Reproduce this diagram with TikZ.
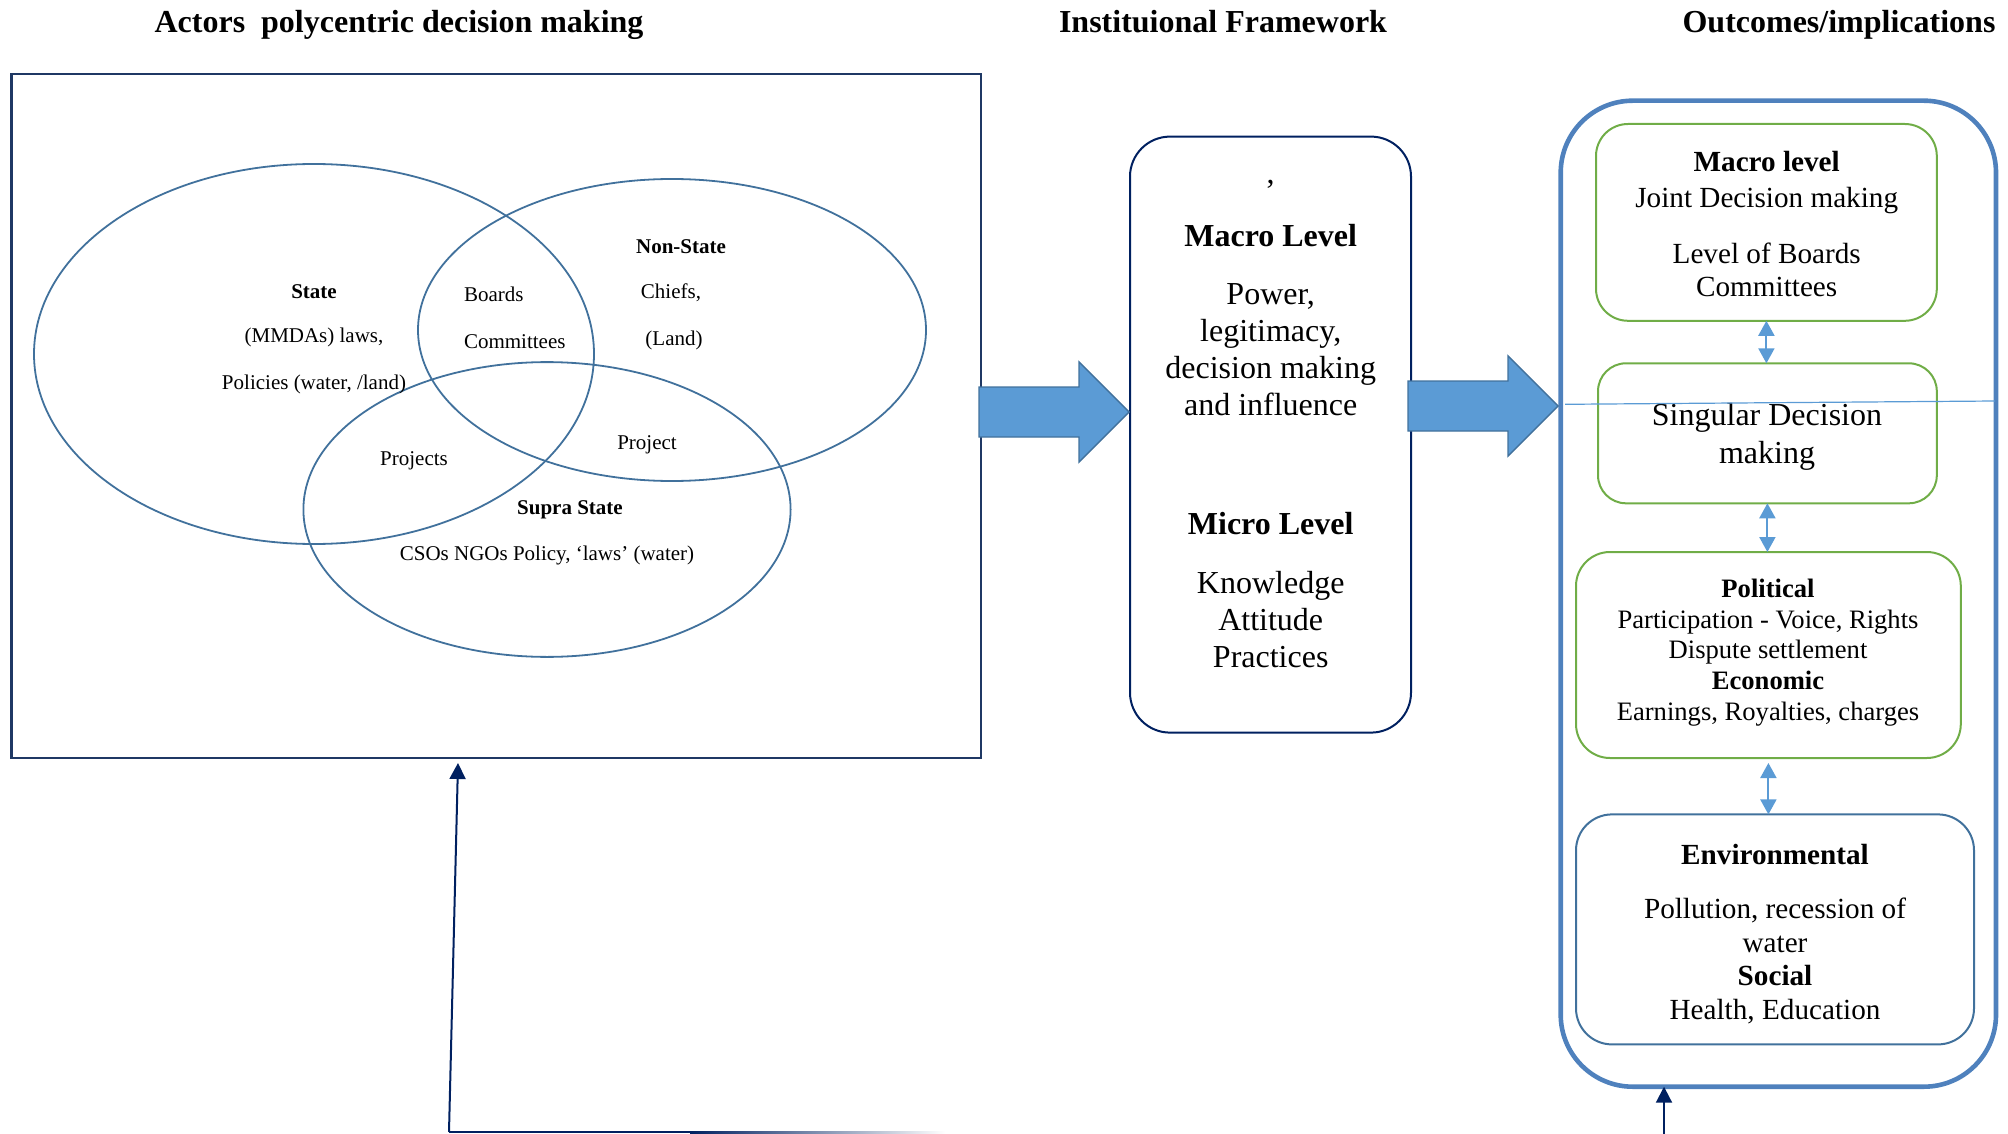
\documentclass[tikz,border=0pt]{standalone}
\usepackage{fontspec}
\setmainfont{Liberation Serif}
\usetikzlibrary{positioning,shapes.geometric,arrows.meta,calc}

\definecolor{vennblue}{HTML}{41719C}
\definecolor{boxblue}{HTML}{4F81BD}
\definecolor{arrowblue}{HTML}{5B9BD5}
\definecolor{leafgreen}{HTML}{70AD47}
\definecolor{deepnavy}{HTML}{002060}
\definecolor{framenavy}{HTML}{1F3864}

\begin{document}
\begin{tikzpicture}[x=0.5pt,y=-0.5pt,
  every node/.style={inner sep=0pt,outer sep=0pt},
  head/.style={anchor=base,font=\fontsize{16}{19}\selectfont\bfseries},
  venn/.style={ellipse,draw=vennblue,line width=0.9pt},
  vtext/.style={anchor=base,font=\fontsize{10.5}{12.5}\selectfont},
  vbold/.style={vtext,font=\fontsize{10.5}{12.5}\selectfont\bfseries},
  greenbox/.style={draw=leafgreen,line width=1pt},
  btext/.style={anchor=base,align=center},
  blockarrow/.style={fill=arrowblue,draw=vennblue,line width=0.7pt,line join=miter},
  twoway/.style={draw=arrowblue,line width=1pt,{Triangle[width=8pt,length=7.5pt]}-{Triangle[width=8pt,length=7.5pt]}},
  navyarrow/.style={draw=deepnavy,line width=1pt,-{Triangle[width=8pt,length=8pt]}}
]
\useasboundingbox (0,0) rectangle (2008,1134);

% column headings
\node[head] (acthead) at (399,33) {Actors~ polycentric decision making};
\node[head] (insthead) at (1223,33) {Instituional Framework};
\node[head] (outhead) at (1839,33) {Outcomes/implications};

% actors and the venn diagram
\node[draw=framenavy,line width=1.2pt,minimum width=484.75pt,minimum height=342pt] (actors) at (496.25,416) {};
\node[venn,minimum width=280pt,minimum height=190pt] (state) at (314,354) {};
\node[venn,minimum width=254pt,minimum height=151pt] (nonstate) at (672,330) {};
\node[venn,minimum width=243.6pt,minimum height=147.4pt] (supra) at (547,509.5) {};

\node[vbold] (statelbl) at (314,299) {State};
\node[vtext] (statelaw) at (314,343) {(MMDAs) laws,};
\node[vtext] (statepol) at (314,389) {Policies (water, /land)};
\node[vtext,anchor=base west] (boards) at (464,302) {Boards};
\node[vtext,anchor=base west] (committees) at (464,349) {Committees};
\node[vbold] (nonstatelbl) at (681,254) {Non-State};
\node[vtext] (chiefs) at (671,299) {Chiefs,};
\node[vtext] (land) at (674,345) {(Land)};
\node[vtext] (project) at (647,449) {Project};
\node[vtext] (projects) at (414,465) {Projects};
\node[vbold] (supralbl) at (570,514) {Supra State};
\node[vtext] (supradesc) at (547,560) {CSOs NGOs Policy, `laws' (water)};

% institutional framework
\node[draw=deepnavy,line width=1pt,rounded corners=20pt,minimum width=140.5pt,minimum height=298pt] (inst) at (1270.5,434.6) {};
\node[anchor=base,font=\fontsize{16}{18.5}\selectfont] (stray) at (1270.7,184) {,};
\node[btext,font=\fontsize{16}{18.4}\selectfont] (insttxt) at (1270.7,667.5)
  {\textbf{Macro Level}\\[11pt] Power,\\ legitimacy,\\ decision making\\ and influence\\[41pt]
   \textbf{Micro Level}\\[11.5pt] Knowledge\\ Attitude\\ Practices};

% outcomes
\node[draw=boxblue,line width=2.3pt,rounded corners=36pt,minimum width=217.65pt,minimum height=493pt] (outcomes) at (1778.35,593.7) {};
\node[greenbox,rounded corners=16pt,minimum width=170.4pt,minimum height=98.4pt] (macrobox) at (1766.4,222.4) {};
\node[greenbox,rounded corners=14pt,minimum width=169.4pt,minimum height=70pt] (singlebox) at (1767.4,433.3) {};
\node[greenbox,rounded corners=17pt,minimum width=192.4pt,minimum height=103pt] (polbox) at (1768.4,655) {};
\node[draw=vennblue,line width=1pt,rounded corners=18pt,minimum width=199pt,minimum height=115pt] (envbox) at (1775,929.4) {};

\node[btext,font=\fontsize{14.6}{17}\selectfont] (macrotxt) at (1766.7,297)
  {\textbf{Macro level}\\[1pt] Joint Decision making\\[10.5pt] Level of Boards\\ Committees};
\node[btext,font=\fontsize{16}{19}\selectfont] (singletxt) at (1767,463) {Singular Decision\\ making};
\node[btext,font=\fontsize{13.3}{15.3}\selectfont] (poltxt) at (1768,720)
  {\textbf{Political}\\ Participation - Voice, Rights\\ Dispute settlement\\ \textbf{Economic}\\ Earnings, Royalties, charges};
\node[btext,font=\fontsize{14.6}{16.7}\selectfont] (envtxt) at (1775,1019)
  {\textbf{Environmental}\\[10.3pt] Pollution, recession of\\ water\\ \textbf{Social}\\ Health, Education};

\coordinate (thinL) at (1565,404.3);
\coordinate (thinR) at (1995,401);
\draw[arrowblue,line width=0.6pt] (thinL) -- (thinR);

\draw[twoway] (macrobox.south) -- (macrobox.south |- singlebox.north);
\draw[twoway] (singlebox.south) -- (singlebox.south |- polbox.north);
\draw[twoway,shorten <=2.5pt] (polbox.south) -- (polbox.south |- envbox.north);

% block arrows
\foreach \tx/\ty in {1129/412,1558/406}
  \draw[blockarrow] (\tx,\ty) -- ++(-50,-50) -- ++(0,25) -- ++(-100,0) -- ++(0,50) -- ++(100,0) -- ++(0,25) -- cycle;

% feedback loop along the bottom
\coordinate (loopL) at (449,1132);
\coordinate (loopM) at (690,1132);
\coordinate (loopR) at (945,1132);
\coordinate (actin) at (458,763);
\coordinate (outfoot) at (1664,1136);
\draw[navyarrow] (loopL) -- (actin);
\draw[deepnavy,line width=1pt] (loopL) -- (loopM);
\shade[left color=deepnavy,right color=white] ($(loopM)+(0,-1)$) rectangle ($(loopR)+(0,1)$);
\draw[navyarrow] (outfoot) -- (outfoot |- outcomes.south);
\end{tikzpicture}
\end{document}
